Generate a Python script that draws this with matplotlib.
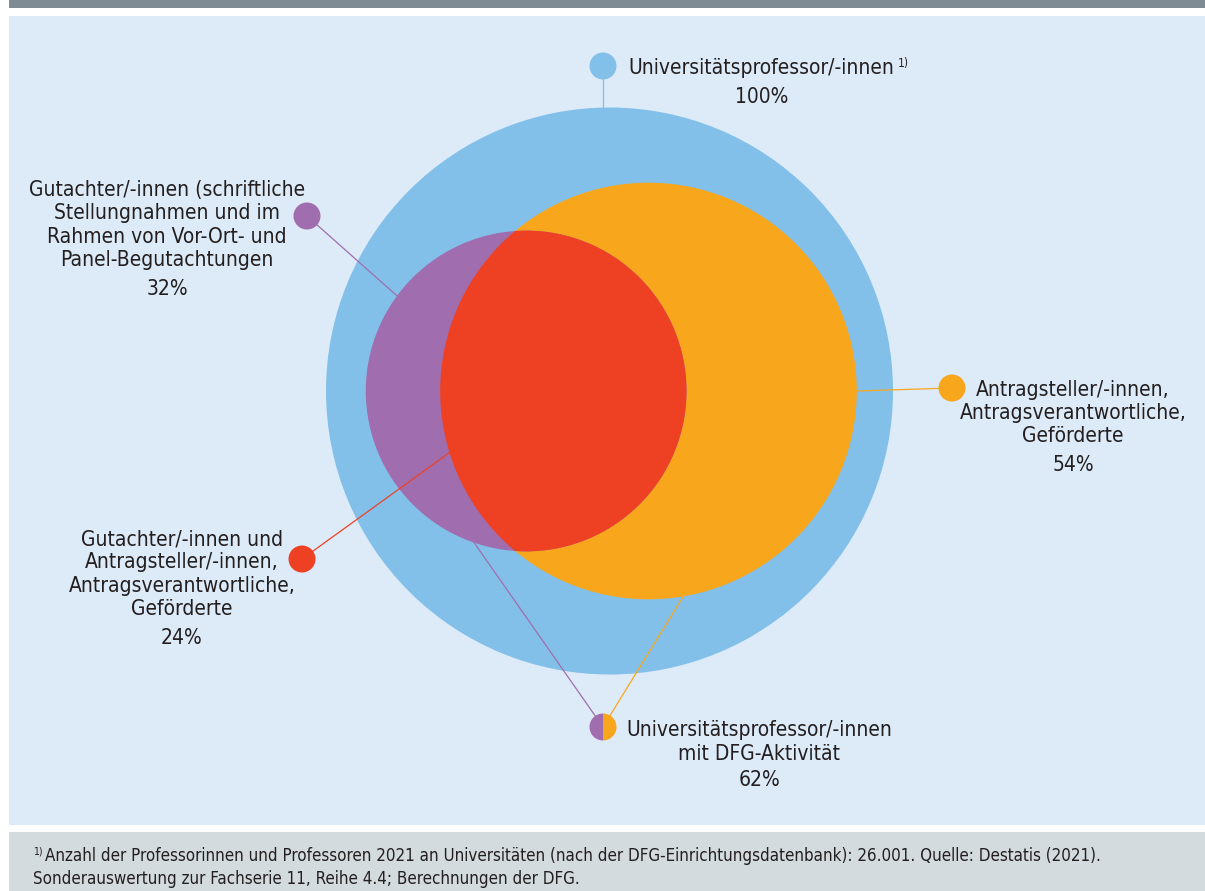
import numpy as np
import matplotlib.pyplot as plt
from matplotlib.patches import Circle, Wedge, Rectangle

# shares of all university professors (in %)
share_all = 100
share_applicants = 54
share_reviewers = 32
share_both = 24
share_active = share_applicants + share_reviewers - share_both

label_all = "Universitätsprofessor/-innen"
label_applicants = "Antragsteller/-innen,\nAntragsverantwortliche,\nGeförderte"
label_reviewers = ("Gutachter/-innen (schriftliche\nStellungnahmen und im\n"
                   "Rahmen von Vor-Ort- und\nPanel-Begutachtungen")
label_both = ("Gutachter/-innen und\nAntragsteller/-innen,\n"
              "Antragsverantwortliche,\nGeförderte")
label_active = "Universitätsprofessor/-innen\nmit DFG-Aktivität"
footnote = ("Anzahl der Professorinnen und Professoren 2021 an Universitäten "
            "(nach der DFG-Einrichtungsdatenbank): 26.001. Quelle: Destatis (2021).")
footnote2 = "Sonderauswertung zur Fachserie 11, Reihe 4.4; Berechnungen der DFG."

BLUE = "#82c0ea"
ORANGE = "#f8a71c"
PURPLE = "#a06eae"
RED = "#ee4124"
PANEL = "#ddebf8"
TEXT = "#231f20"
FONT = dict(family=["DejaVu Sans"], fontstretch="condensed", color=TEXT)

W, H = 1205, 891
fig = plt.figure(figsize=(W / 100, H / 100), dpi=100)
ax = fig.add_axes([0, 0, 1, 1])
ax.set_xlim(0, W)
ax.set_ylim(H, 0)
ax.axis("off")

# frame: grey bar on top, light blue panel, grey footer
ax.add_patch(Rectangle((9, 0), W - 9, 8, color="#7e8b95", lw=0))
ax.add_patch(Rectangle((9, 16), W - 9, 809, color=PANEL, lw=0))
ax.add_patch(Rectangle((9, 832), W - 9, H - 832, color="#d3dbdf", lw=0))


def radius(share):
    return R_BIG * np.sqrt(share / share_all)


def lens_area(r1, r2, d):
    if d >= r1 + r2:
        return 0.0
    if d <= abs(r1 - r2):
        return np.pi * min(r1, r2) ** 2
    a1 = r1 ** 2 * np.arccos((d ** 2 + r1 ** 2 - r2 ** 2) / (2 * d * r1))
    a2 = r2 ** 2 * np.arccos((d ** 2 + r2 ** 2 - r1 ** 2) / (2 * d * r2))
    k = np.sqrt((-d + r1 + r2) * (d + r1 - r2) * (d - r1 + r2) * (d + r1 + r2))
    return a1 + a2 - 0.5 * k


def center_distance(r1, r2, area):
    # bisection: overlap shrinks as the centres move apart
    lo, hi = abs(r1 - r2), r1 + r2
    for _ in range(60):
        mid = (lo + hi) / 2
        if lens_area(r1, r2, mid) > area:
            lo = mid
        else:
            hi = mid
    return (lo + hi) / 2


def on_circle(c, r, ang):
    a = np.radians(ang)
    return c[0] + r * np.cos(a), c[1] + r * np.sin(a)


R_BIG = 283.5
c_all = (609.5, 391)
r_app = radius(share_applicants)
r_rev = radius(share_reviewers)
target = share_both / share_all * np.pi * R_BIG ** 2
d = center_distance(r_app, r_rev, target)
c_app = (c_all[0] + 39, c_all[1])
c_rev = (c_app[0] - d, c_all[1])

ax.add_patch(Circle(c_all, R_BIG, color=BLUE, lw=0))
app = Circle(c_app, r_app, color=ORANGE, lw=0)
ax.add_patch(app)
ax.add_patch(Circle(c_rev, r_rev, color=PURPLE, lw=0))
both = Circle(c_rev, r_rev, color=RED, lw=0)
ax.add_patch(both)
both.set_clip_path(app)

# markers and leader lines
MR = 13.5
LW = 0.9


def marker(x, y, color):
    ax.add_patch(Circle((x, y), MR, color=color, lw=0, zorder=5))


def leader(p0, p1, color):
    ax.plot([p0[0], p1[0]], [p0[1], p1[1]], color=color, lw=LW, zorder=4)


# top: all professors
top = (603, 66)
y_edge = c_all[1] - np.sqrt(R_BIG ** 2 - (top[0] - c_all[0]) ** 2)
leader(top, (top[0], y_edge), BLUE)
marker(*top, BLUE)

# right: applicants
right = (952, 388)
leader(on_circle(c_app, r_app, 0), right, ORANGE)
marker(*right, ORANGE)

# left top: reviewers
rev_m = (307, 216)
leader(rev_m, on_circle(c_rev, r_rev, 216.4), PURPLE)
marker(*rev_m, PURPLE)

# left bottom: both
both_m = (302, 559)
leader(both_m, on_circle(c_app, r_app, 162.8), RED)
marker(*both_m, RED)

# bottom: DFG-active
act = (603, 727)
leader(act, on_circle(c_rev, r_rev, 108.9), PURPLE)
leader(act, on_circle(c_app, r_app, 80.4), ORANGE)
ax.add_patch(Wedge(act, MR, 90, 270, color=PURPLE, lw=0, zorder=5))
ax.add_patch(Wedge(act, MR, -90, 90, color=ORANGE, lw=0, zorder=5))

FS = 15
kw = dict(fontsize=FS, linespacing=1.2, **FONT)

t = ax.text(628, 68, label_all, ha="left", va="center", **kw)
ax.text(762, 97, f"{share_all}%", ha="center", va="center", **kw)
renderer = fig.canvas.get_renderer()
bb = t.get_window_extent(renderer).transformed(ax.transData.inverted())
ax.text(bb.x1 + 4, 63, "1)", ha="left", va="center", fontsize=8.5, **FONT)

ax.text(1073, 413, label_applicants, ha="center", va="center", **kw)
ax.text(1073, 465, f"{share_applicants}%", ha="center", va="center", **kw)

ax.text(167, 225, label_reviewers, ha="center", va="center", **kw)
ax.text(167, 289, f"{share_reviewers}%", ha="center", va="center", **kw)

ax.text(182, 574, label_both, ha="center", va="center", **kw)
ax.text(182, 638, f"{share_both}%", ha="center", va="center", **kw)

ax.text(759, 742, label_active, ha="center", va="center", **kw)
ax.text(759, 780, f"{share_active}%", ha="center", va="center", **kw)

# footnote
ax.text(33, 851, "1)", ha="left", va="center", fontsize=7.5, **FONT)
ax.text(45, 856, footnote, ha="left", va="center", fontsize=12.2, **FONT)
ax.text(33, 879, footnote2, ha="left", va="center", fontsize=12.2, **FONT)

fig.savefig("out.png", dpi=100, facecolor="white")
